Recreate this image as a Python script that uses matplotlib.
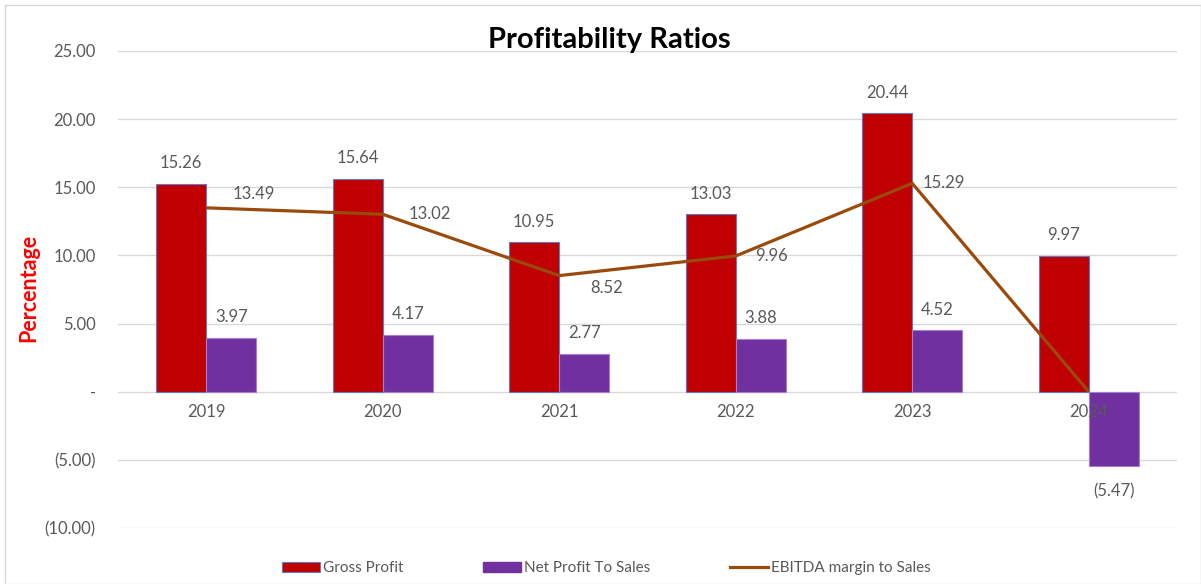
import matplotlib.pyplot as plt
import matplotlib.patches as mpatches
import numpy as np

plt.rcParams['font.family'] = ['Lato', 'DejaVu Sans']

years = ["2019", "2020", "2021", "2022", "2023", "2024"]
gross_profit = [15.26, 15.64, 10.95, 13.03, 20.44, 9.97]
net_profit = [3.97, 4.17, 2.77, 3.88, 4.52, -5.47]
ebitda = [13.49, 13.02, 8.52, 9.96, 15.29, 0.0]
ebitda_labels = ["13.49", "13.02", "8.52", "9.96", "15.29", ""]
# label offsets (points) for the EBITDA labels, roughly as in the source
ebitda_offsets = [(34, 10), (34, 0), (34, -9), (26, 0), (23, 0), (0, 0)]

RED = "#C00000"
PURPLE = "#7030A0"
BROWN = "#9A4A0B"
GREY = "#595959"
FS = 12


def fmt(v):
    return "(%.2f)" % abs(v) if v < 0 else "%.2f" % v


def tick_fmt(v):
    if abs(v) < 1e-9:
        return "-"
    return fmt(v)


fig = plt.figure(figsize=(12.01, 5.84), dpi=100)
ax = fig.add_axes([0.0983, 0.0959, 0.8817, 0.8168])

x = np.arange(len(years))
w = 0.284
ax.bar(x - w / 2, gross_profit, w, color=RED, edgecolor="#5B7FC0",
       linewidth=0.8, zorder=2)
ax.bar(x + w / 2, net_profit, w, color=PURPLE, edgecolor="#A57FCF",
       linewidth=0.8, zorder=2)
ax.plot(x, ebitda, color=BROWN, linewidth=2.3, zorder=3,
        solid_capstyle="butt")

for i, v in enumerate(gross_profit):
    ax.annotate(fmt(v), (x[i] - w / 2, v), xytext=(0, 9),
                textcoords="offset points", ha="center", va="bottom",
                fontsize=FS, color=GREY)
for i, v in enumerate(net_profit):
    dy = 9 if v >= 0 else -12
    ax.annotate(fmt(v), (x[i] + w / 2, v), xytext=(0, dy),
                textcoords="offset points", ha="center",
                va="bottom" if v >= 0 else "top", fontsize=FS, color=GREY)
for i, v in enumerate(ebitda):
    if ebitda_labels[i]:
        ax.annotate(ebitda_labels[i], (x[i], v), xytext=ebitda_offsets[i],
                    textcoords="offset points", ha="center", va="center",
                    fontsize=FS, color=GREY)

# category labels sit on the zero line, drawn over the bars
for i, yr in enumerate(years):
    ax.annotate(yr, (x[i], 0), xytext=(0, -9), textcoords="offset points",
                ha="center", va="top", fontsize=FS, color=GREY, zorder=5)

ax.set_xlim(-0.5, len(years) - 0.5)
ax.set_ylim(-10, 25)
yt = np.arange(-10, 26, 5)
ax.set_yticks(yt)
ax.set_yticklabels([tick_fmt(v) for v in yt])
ax.set_xticks(x)
ax.set_xticklabels([])
ax.tick_params(axis="both", length=0, labelsize=FS, labelcolor=GREY)
ax.tick_params(axis="y", pad=16)
for s in ax.spines.values():
    s.set_visible(False)
ax.grid(axis="y", color="#D9D9D9", linewidth=1, zorder=0)
ax.set_axisbelow(True)

fig.text(0.507, 0.932, "Profitability Ratios", ha="center", va="center",
         fontsize=21, fontweight="bold", color="black")
fig.text(0.024, 0.507, "Percentage", rotation=90, ha="center", va="center",
         fontsize=15.5, fontweight="bold", color="#FF0000")

handles = [
    mpatches.Patch(facecolor=RED, edgecolor="#5B7FC0", linewidth=0.8),
    mpatches.Patch(facecolor=PURPLE, edgecolor=PURPLE),
    plt.Line2D([], [], color=BROWN, linewidth=2.3),
]
labels = ["Gross Profit", "Net Profit To Sales", "EBITDA margin to Sales"]
fig.legend(handles, labels, loc="center", bbox_to_anchor=(0.505, 0.027),
           ncol=3, frameon=False, fontsize=11, labelcolor=GREY,
           handlelength=2.5, handleheight=0.7, handletextpad=0.2,
           columnspacing=5.2)

fig.patches.append(mpatches.Rectangle((0.004, 0.0), 0.996, 0.991,
                                      transform=fig.transFigure, fill=False,
                                      edgecolor="#D9D9D9", linewidth=1))

fig.savefig("out.png", dpi=100, facecolor="white")
